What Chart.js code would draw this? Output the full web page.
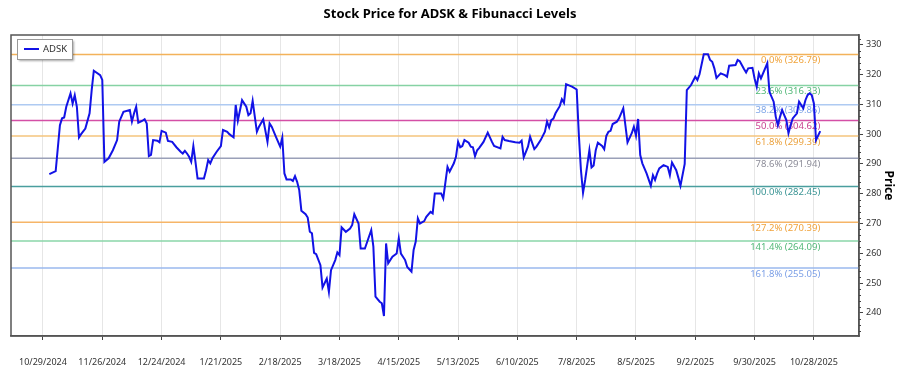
<!DOCTYPE html>
<html>
<head>
<meta charset="utf-8">
<script src="https://cdn.jsdelivr.net/npm/chart.js@4.4.1/dist/chart.umd.min.js"></script>
<style>
html, body { margin:0; padding:0; background:#fff; }
</style>
</head>
<body>
<canvas id="chart" width="900" height="375"></canvas>
<script>
// price series, x = days since 10/29/2024
const days = [3,6,8,9,10,11,13,14,15,16,17,18,20,22,23,24,27,28,29,31,33,35,36,38,41,42,43,44,45,47,48,49,50,51,52,54,55,56,58,59,61,63,65,66,67,68,69,70,71,72,73,76,77,78,79,80,82,84,85,87,88,90,91,92,94,96,97,98,99,101,102,104,106,107,108,110,112,113,114,115,117,118,119,120,121,122,124,125,126,127,128,129,131,132,134,135,136,138,139,140,141,143,145,146,147,149,150,152,155,156,157,159,160,161,162,163,165,167,168,169,171,172,174,175,176,177,178,180,181,183,184,185,188,189,191,192,194,195,196,197,198,199,201,202,203,204,205,206,208,210,212,213,216,217,218,220,223,225,226,227,229,230,232,233,235,237,238,239,240,241,242,244,245,246,247,250,252,253,254,255,256,258,259,260,261,262,264,265,266,267,268,269,271,272,274,276,278,279,280,281,282,283,285,287,288,289,290,291,293,295,296,297,299,300,301,303,304,306,308,309,310,312,314,315,316,317,318,320,322,323,324,327,328,329,331,332,333,335,336,337,338,339,342,343,345,346,347,348,349,350,351,352,353,354,356,357,359,360,361,362,363,364,365,366,367];
const prices = [286.6,287.6,303.0,305.3,305.6,309.2,313.7,310.3,313.1,309.2,298.9,300.0,301.9,307.0,314.8,321.3,319.8,318.2,290.7,291.9,294.6,298.0,304.2,307.5,308.1,304.2,307.0,309.2,303.8,304.5,305.0,303.6,292.6,293.0,298.0,297.8,297.3,301.1,300.5,297.7,297.4,295.6,294.1,293.5,294.4,293.5,292.4,290.7,296.0,290.7,285.1,285.1,287.9,291.3,290.2,291.9,294.1,296.0,301.4,300.8,300.0,298.9,309.8,304.5,311.4,309.2,306.4,307.0,311.2,300.8,302.5,305.0,297.4,303.6,302.5,299.1,295.8,298.9,286.8,284.8,284.8,284.3,285.9,284.0,281.2,274.3,273.1,272.0,267.2,266.7,260.1,259.7,256.0,248.5,251.5,247.0,254.3,257.7,260.3,259.4,268.7,267.2,268.3,269.5,273.1,270.0,261.6,261.6,267.8,262.2,245.4,243.7,243.2,238.9,263.3,256.6,258.8,259.9,265.0,259.9,257.7,255.4,253.8,261.1,263.9,271.7,270.0,270.8,272.2,273.9,273.4,280.1,280.1,278.4,289.0,287.4,290.2,292.4,297.4,295.6,296.0,298.0,297.1,295.8,295.6,292.6,294.6,295.4,297.4,300.5,297.4,296.0,295.2,299.1,298.0,297.7,297.3,297.1,297.8,292.2,295.8,299.1,295.0,295.8,298.0,300.8,304.2,302.3,304.7,305.2,307.0,309.4,311.7,310.5,316.8,315.9,315.0,300.0,288.0,280.3,284.6,294.6,288.8,289.5,294.6,297.1,296.0,294.9,299.4,300.8,301.1,303.4,304.2,305.3,308.7,297.2,300.3,302.5,299.5,305.1,293.0,290.2,286.8,282.7,286.2,284.6,286.8,288.5,289.6,289.0,286.2,290.5,287.9,285.4,282.7,290.0,314.8,316.5,319.3,318.2,320.1,326.8,326.8,324.9,324.3,322.1,318.9,320.4,319.8,319.3,323.0,323.2,324.9,324.5,321.9,320.7,322.1,322.3,318.7,315.9,320.4,318.7,323.8,314.2,310.9,305.8,303.0,305.8,308.1,306.4,304.7,300.3,303.0,305.3,307.0,310.9,308.7,311.4,313.1,313.7,313.1,310.3,298.0,299.5,301.0];

// x axis ticks every 28 days
const tickDays = [0,28,56,84,112,140,168,196,224,252,280,308,336,364];
const tickLabels = ["10/29/2024","11/26/2024","12/24/2024","1/21/2025","2/18/2025","3/18/2025","4/15/2025","5/13/2025","6/10/2025","7/8/2025","8/5/2025","9/2/2025","9/30/2025","10/28/2025"];
const yTicks = [240,250,260,270,280,290,300,310,320,330];

// fibonacci levels
const fibPct = ["0.0%","23.6%","38.2%","50.0%","61.8%","78.6%","100.0%","127.2%","141.4%","161.8%"];
const fibValues = [326.79,316.33,309.86,304.62,299.39,291.94,282.45,270.39,264.09,255.05];
const fibLineColors = ["#f3b25a","#86d2a4","#aecaf2","#d44fa6","#f4c47c","#9aa0b8","#4a9e9e","#f6b568","#8ad6a8","#9ab8ee"];
const fibTextColors = ["#f0a33a","#52b878","#7fa6e8","#c8408f","#eba23e","#8c8c98","#3a9494","#f0a23a","#52b878","#7b9fe6"];

const X_MIN = -15.1, X_MAX = 385.3;
const Y_MIN = 232.2, Y_MAX = 333.3;
const FONT = "'Noto Sans', 'Open Sans', sans-serif";

const datasets = [{
    label: "ADSK",
    data: days.map((d, i) => ({ x: d, y: prices[i] })),
    borderColor: "#1212e6",
    borderWidth: 2,
    pointRadius: 0,
    tension: 0
}];
fibValues.forEach((v, i) => {
    datasets.push({
        label: fibPct[i],
        data: [{ x: X_MIN, y: v }, { x: X_MAX, y: v }],
        borderColor: fibLineColors[i],
        borderWidth: 1.5,
        pointRadius: 0
    });
});

const extras = {
    id: "extras",
    beforeDatasetsDraw(chart) {
        const ctx = chart.ctx, x = chart.scales.x, y = chart.scales.y;
        ctx.save();
        ctx.font = "9.5px " + FONT;
        ctx.textAlign = "right";
        ctx.textBaseline = "middle";
        const lx = x.getPixelForValue(days[days.length - 1]);
        fibValues.forEach((v, i) => {
            ctx.fillStyle = fibTextColors[i];
            ctx.fillText(fibPct[i] + " (" + v.toFixed(2) + ")", lx, y.getPixelForValue(v) + 6);
        });
        ctx.restore();
    },
    afterDraw(chart) {
        const ctx = chart.ctx, a = chart.chartArea, y = chart.scales.y;
        ctx.save();

        // frame
        ctx.strokeStyle = "#555";
        ctx.lineWidth = 1.5;
        ctx.strokeRect(a.left, a.top, a.right - a.left, a.bottom - a.top);

        // minor ticks on price axis
        ctx.strokeStyle = "#444";
        ctx.lineWidth = 1;
        for (let v = 234; v <= 332; v += 2) {
            if (v % 10 === 0) continue;
            const py = Math.round(y.getPixelForValue(v)) + 0.5;
            ctx.beginPath();
            ctx.moveTo(a.right, py);
            ctx.lineTo(a.right + 2, py);
            ctx.stroke();
        }

        // title
        ctx.fillStyle = "#000";
        ctx.font = "bold 13px " + FONT;
        ctx.textAlign = "center";
        ctx.textBaseline = "middle";
        ctx.fillText("Stock Price for ADSK & Fibunacci Levels", 450, 14);

        // axis title
        ctx.font = "bold 12px " + FONT;
        ctx.save();
        ctx.translate(888, (a.top + a.bottom) / 2);
        ctx.rotate(Math.PI / 2);
        ctx.fillText("Price", 0, 0);
        ctx.restore();

        // legend box
        ctx.save();
        ctx.shadowColor = "rgba(0,0,0,0.35)";
        ctx.shadowOffsetX = 2;
        ctx.shadowOffsetY = 2;
        ctx.shadowBlur = 2;
        ctx.fillStyle = "#fff";
        ctx.fillRect(17, 39, 55, 20);
        ctx.restore();
        ctx.strokeStyle = "#999";
        ctx.lineWidth = 1;
        ctx.strokeRect(17.5, 39.5, 55, 20);
        ctx.strokeStyle = "#1212e6";
        ctx.lineWidth = 2;
        ctx.beginPath();
        ctx.moveTo(24, 49);
        ctx.lineTo(39, 49);
        ctx.stroke();
        ctx.fillStyle = "#333";
        ctx.font = "9.5px " + FONT;
        ctx.textAlign = "left";
        ctx.fillText("ADSK", 43, 49.5);

        ctx.restore();
    }
};

new Chart(document.getElementById("chart"), {
    type: "line",
    data: { datasets: datasets },
    plugins: [extras],
    options: {
        responsive: false,
        animation: false,
        devicePixelRatio: 1,
        layout: { padding: { left: 11, top: 35, right: 0, bottom: 0 } },
        plugins: {
            legend: { display: false },
            title: { display: false },
            tooltip: { enabled: false }
        },
        scales: {
            x: {
                type: "linear",
                min: X_MIN,
                max: X_MAX,
                afterBuildTicks: s => { s.ticks = tickDays.map(v => ({ value: v })); },
                afterFit: s => { s.height = 39; },
                ticks: {
                    callback: (v, i) => tickLabels[i],
                    maxRotation: 0,
                    autoSkip: false,
                    padding: 17,
                    color: "#333",
                    font: { family: FONT, size: 9 }
                },
                grid: { color: "#e6e6e6", tickColor: "#444", tickLength: 4 },
                border: { color: "#555", width: 1.5 }
            },
            y: {
                position: "right",
                min: Y_MIN,
                max: Y_MAX,
                afterBuildTicks: s => { s.ticks = yTicks.map(v => ({ value: v })); },
                afterFit: s => { s.width = 41; },
                ticks: {
                    padding: 3,
                    color: "#333",
                    font: { family: FONT, size: 9 }
                },
                grid: { drawOnChartArea: false, tickColor: "#444", tickLength: 4 },
                border: { color: "#555", width: 1.5 }
            }
        }
    }
});
</script>
</body>
</html>
